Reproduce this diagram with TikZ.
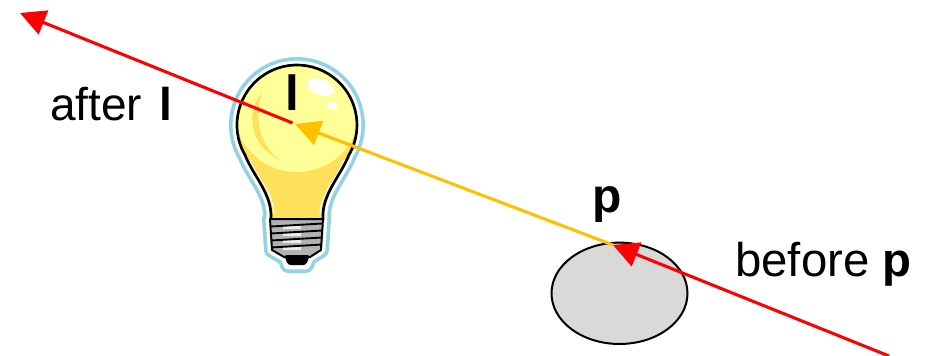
\documentclass[tikz,border=0pt]{standalone}
\usepackage{fontspec}
\setmainfont{Liberation Sans}
\usetikzlibrary{arrows.meta, shapes.geometric}

\definecolor{rayRed}{RGB}{255, 0, 0}
\definecolor{rayGold}{RGB}{255, 192, 0}
\definecolor{haloBlue}{RGB}{146, 211, 227}
\definecolor{bulbLight}{RGB}{255, 255, 153}
\definecolor{bulbDeep}{RGB}{255, 224, 90}
\definecolor{objGray}{RGB}{217, 217, 217}

% lamp outlines, shared by halo, glass and rim
\def\globepath{(271,220) -- (271,214) .. controls (270,192) and (253,175) .. (245,155)
  arc[start angle=150, end angle=390, radius=60]
  .. controls (341,175) and (324,192) .. (323,214) -- (323,220) -- cycle}
\def\basepath{(270,219) -- (323,219) -- (321,250) -- (310,257) -- (284,257) -- (272,250) -- cycle}
\def\cappath{(284,255) -- (310,255) -- (306,265) -- (288,265) -- cycle}

\begin{document}
\begin{tikzpicture}[
    x=0.75pt, y=-0.75pt,
    ray/.style={line width=2.3pt, -{Triangle[length=19pt, width=19pt]}},
    word/.style={inner sep=0pt, anchor=base west},
    tag/.style={inner sep=0pt, anchor=base},
    obj/.style={ellipse, draw, fill=objGray, line width=1.5pt,
                minimum width=102pt, minimum height=76pt, inner sep=0pt},
  ]
    \useasboundingbox (0,0) rectangle (933,355);

    % Lamp: halo and white rim
    \foreach \w/\col in {12pt/haloBlue, 6.5pt/white}{
      \draw[line width=\w, \col, line join=round] \globepath \basepath \cappath;
    }

    % Lamp: glass
    \begin{scope}
      \clip \globepath;
      \fill[bulbDeep] (200,50) rectangle (400,230);
      \fill[bulbLight] (297,112) ellipse [x radius=62, y radius=60];
      \fill[bulbDeep] (262,93) .. controls (246,110) and (248,145) .. (280,160)
        .. controls (258,145) and (254,115) .. (262,93) -- cycle;
      \fill[white, rotate around={-20:(321,87)}] (321,87) ellipse [x radius=14, y radius=8];
      \fill[white, rotate around={-25:(332,106)}] (332,106) ellipse [x radius=6, y radius=3];
      \draw[white, line width=0.8pt] (250,160) .. controls (258,180) and (273,192) .. (274,214);
      \draw[white, line width=0.8pt] (344,160) .. controls (336,180) and (321,192) .. (320,214);
    \end{scope}
    \draw[line width=2pt, line join=round] \globepath;

    % Lamp: screw base
    \fill[gray!60] \basepath;
    \foreach \y in {225,232,239,246}{
      \fill[gray!15] (283,\y+1) rectangle (301,\y+4);
      \draw[line width=1.4pt] (271,\y+1.5) -- (322,\y-1.5);
    }
    \draw[line width=1.5pt, line join=round] \basepath;
    \fill[rounded corners=2pt] \cappath;

    % Labels
    \node[tag, font=\fontsize{37}{37}\selectfont\bfseries] (lname) at (292.5,110) {l};
    \node[tag, font=\fontsize{36}{36}\selectfont\bfseries] (pname) at (607,212) {p};
    \node[word, font=\fontsize{34.5}{34.5}\selectfont] (after) at (50,120)
      {after\hspace{13pt}\textbf{l}};
    \node[word, font=\fontsize{35.5}{35.5}\selectfont] (before) at (735,276)
      {before \textbf{p}};

    % Surface point
    \node[obj] (obj) at (619.5,293.3) {};

    % Rays
    \coordinate (lamp) at (295,124);
    \coordinate (far) at (20,13);
    \coordinate (hit) at (613,245);
    \coordinate (src) at (889,356);
    \draw[ray, rayRed, shorten <=2pt] (lamp) -- (far);
    \draw[ray, rayGold] (hit) -- (lamp);
    \draw[ray, rayRed] (src) -- (hit);
  \end{tikzpicture}
\end{document}
